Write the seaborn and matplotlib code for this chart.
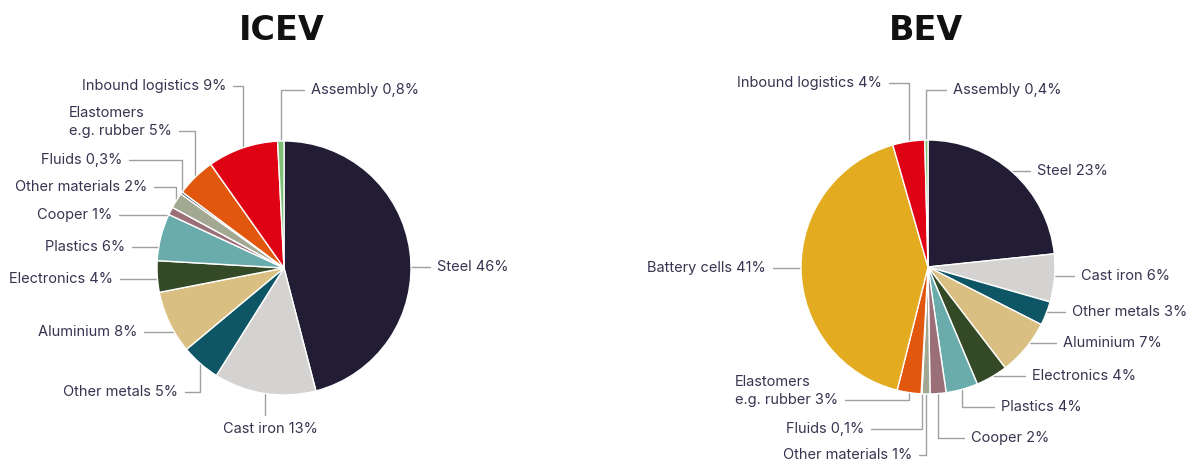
import numpy as np
import matplotlib
matplotlib.use("Agg")
import matplotlib.pyplot as plt
import seaborn as sns

# ── data ────────────────────────────────────────────────
icev_parts = ["Steel", "Cast iron", "Other metals", "Aluminium", "Electronics",
              "Plastics", "Cooper", "Other materials", "Fluids",
              "Elastomers\ne.g. rubber", "Inbound logistics", "Assembly"]
icev_share = [46, 13, 5, 8, 4, 6, 1, 2, 0.3, 5, 9, 0.8]
icev_pct = ["46%", "13%", "5%", "8%", "4%", "6%", "1%", "2%", "0,3%", "5%", "9%", "0,8%"]

bev_parts = ["Steel", "Cast iron", "Other metals", "Aluminium", "Electronics",
             "Plastics", "Cooper", "Other materials", "Fluids",
             "Elastomers\ne.g. rubber", "Battery cells", "Inbound logistics", "Assembly"]
bev_share = [23, 6, 3, 7, 4, 4, 2, 1, 0.1, 3, 41, 4, 0.4]
bev_pct = ["23%", "6%", "3%", "7%", "4%", "4%", "2%", "1%", "0,1%", "3%", "41%", "4%", "0,4%"]

# ── style ───────────────────────────────────────────────
PART_COLORS = {
    "Steel": "#221d35",
    "Cast iron": "#d4d3d1",
    "Other metals": "#0e5566",
    "Aluminium": "#d9bf82",
    "Electronics": "#344a27",
    "Plastics": "#6aabab",
    "Cooper": "#9b6f78",
    "Other materials": "#a3a893",
    "Fluids": "#3f4654",
    "Elastomers\ne.g. rubber": "#e2570e",
    "Battery cells": "#e3ab20",
    "Inbound logistics": "#de0214",
    "Assembly": "#7cbf74",
}
TEXT = "#3a3350"
LINE = "#a0a0a0"

sns.set_theme(style="white")
plt.rcParams["font.family"] = ["Inter", "DejaVu Sans"]

W, H = 1187, 463
R = 127

# label layout in pixels (x, y from top, side)
icev_layout = [
    (437, 267, "R"), (270, 429, "B"), (178, 392, "L"), (137, 332, "L"),
    (113, 279, "L"), (125, 247, "L"), (112, 215, "L"), (147, 187, "L"),
    (122, 160, "L"), (172, 131, "L"), (226, 86, "L"), (311, 90, "R"),
]
bev_layout = [
    (1037, 171, "R"), (1081, 276, "R"), (1072, 312, "R"), (1063, 343, "R"),
    (1032, 376, "R"), (1001, 407, "R"), (971, 438, "R"), (912, 455, "L"),
    (864, 429, "L"), (838, 400, "L"), (766, 268, "L"), (882, 83, "L"),
    (953, 90, "R"),
]


def draw_pie(ax, center_px, title, parts, share, pct, layout):
    cx, cy = center_px[0], H - center_px[1]
    colors = sns.color_palette([PART_COLORS[p] for p in parts])
    wedges, _ = ax.pie(share, colors=colors, startangle=90, counterclock=False,
                       center=(cx, cy), radius=R, frame=True,
                       wedgeprops=dict(edgecolor="white", linewidth=1.0))
    ax.text(cx - 2, H - 30, title, ha="center", va="center",
            fontsize=24, fontweight="bold", color="#111111",
            family="DejaVu Sans")

    for w, part, p, (tx, ty, side) in zip(wedges, parts, pct, layout):
        label = f"{part} {p}"
        y = H - ty
        mid = np.radians((w.theta1 + w.theta2) / 2)
        ax_, ay_ = cx + R * np.cos(mid), cy + R * np.sin(mid)

        if side == "B":
            ax.plot([ax_, ax_], [ay_, y + 14], color=LINE, lw=1)
            ax.text(tx, y, label, ha="center", va="center",
                    fontsize=10.5, color=TEXT)
            continue

        ha = "right" if side == "L" else "left"
        ty_text = y + 9 if "\n" in part else y
        ax.text(tx, ty_text, label, ha=ha, va="center", fontsize=10.5,
                color=TEXT, linespacing=1.45, multialignment="left")

        x0 = tx + 7 if side == "L" else tx - 7
        dy = y - cy
        pts = None
        if abs(dy) < R:
            dx = np.sqrt(R ** 2 - dy ** 2)
            xi = cx - dx if side == "L" else cx + dx
            ang = np.degrees(np.arctan2(dy, xi - cx))
            if (ang - w.theta1) % 360 <= (w.theta2 - w.theta1):
                pts = [(x0, y), (xi, y)]
        if pts is None:
            pts = [(x0, y), (ax_, y), (ax_, ay_)]
        xs, ys = zip(*pts)
        ax.plot(xs, ys, color=LINE, lw=1, zorder=0.5)


fig = plt.figure(figsize=(W / 100, H / 100), dpi=100)
ax = fig.add_axes([0, 0, 1, 1])

draw_pie(ax, (284, 268), "ICEV", icev_parts, icev_share, icev_pct, icev_layout)
draw_pie(ax, (928, 267), "BEV", bev_parts, bev_share, bev_pct, bev_layout)

ax.set_xlim(0, W)
ax.set_ylim(0, H)
ax.set_aspect("equal")
ax.axis("off")

fig.savefig("out.png", dpi=100, facecolor="white")
